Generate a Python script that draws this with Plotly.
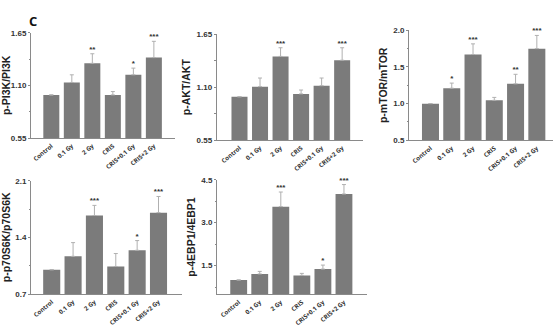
import plotly.graph_objects as go

categories = ["Control", "0.1 Gy", "2 Gy", "CRIS", "CRIS+0.1 Gy", "CRIS+2 Gy"]

pi3k_vals = [1.00, 1.13, 1.33, 1.00, 1.21, 1.39]
pi3k_err  = [0.00, 0.08, 0.10, 0.035, 0.07, 0.17]
pi3k_sig  = ["", "", "**", "", "*", "***"]

akt_vals = [1.00, 1.105, 1.42, 1.03, 1.115, 1.38]
akt_err  = [0.00, 0.09, 0.09, 0.04, 0.08, 0.13]
akt_sig  = ["", "", "***", "", "", "***"]

mtor_vals = [1.00, 1.21, 1.67, 1.045, 1.27, 1.75]
mtor_err  = [0.00, 0.07, 0.145, 0.04, 0.13, 0.18]
mtor_sig  = ["", "*", "***", "", "**", "***"]

p70_vals = [1.00, 1.165, 1.67, 1.04, 1.24, 1.705]
p70_err  = [0.00, 0.17, 0.125, 0.16, 0.12, 0.20]
p70_sig  = ["", "", "***", "", "*", "***"]

ebp_vals = [1.00, 1.21, 3.56, 1.16, 1.38, 4.00]
ebp_err  = [0.00, 0.09, 0.51, 0.07, 0.14, 0.33]
ebp_sig  = ["", "", "***", "", "*", "***"]

panels = [
    dict(vals=pi3k_vals, err=pi3k_err, sig=pi3k_sig, title="p-PI3K/PI3K",
         yr=[0.55, 1.65], tv=[0.55, 1.10, 1.65], tt=["0.55", "1.10", "1.65"], mdt=0.275,
         xr=[-0.99, 6.03], xd=[31, 175], yd=[138, 32.7], bw=0.78),
    dict(vals=akt_vals, err=akt_err, sig=akt_sig, title="p-AKT/AKT",
         yr=[0.55, 1.65], tv=[0.55, 1.10, 1.65], tt=["0.55", "1.10", "1.65"], mdt=0.275,
         xr=[-1.11, 6.03], xd=[216.7, 363.3], yd=[140, 34.3], bw=0.78),
    dict(vals=mtor_vals, err=mtor_err, sig=mtor_sig, title="p-mTOR/mTOR",
         yr=[0.5, 2.0], tv=[0.5, 1.0, 1.5, 2.0], tt=["0.5", "1.0", "1.5", "2.0"], mdt=0.25,
         xr=[-1.01, 5.76], xd=[409, 553], yd=[140.3, 30.3], bw=0.8),
    dict(vals=p70_vals, err=p70_err, sig=p70_sig, title="p-p70S6K/p70S6K",
         yr=[0.7, 2.1], tv=[0.7, 1.4, 2.1], tt=["0.7", "1.4", "2.1"], mdt=0.35,
         xr=[-0.97, 6.1], xd=[31, 182], yd=[294, 180.7], bw=0.8),
    dict(vals=ebp_vals, err=ebp_err, sig=ebp_sig, title="p-4EBP1/4EBP1",
         yr=[0.5, 4.5], tv=[1.5, 3.0, 4.5], tt=["1.5", "3.0", "4.5"], mdt=0.75,
         xr=[-1.03, 6.08], xd=[217, 366.7], yd=[294.3, 179.7], bw=0.8),
]

W, H = 560, 328
fig = go.Figure()
layout = dict(
    width=W, height=H, margin=dict(l=0, r=0, t=0, b=0, autoexpand=False),
    paper_bgcolor="white", plot_bgcolor="white", showlegend=False,
    font=dict(family="Liberation Sans, Arial, sans-serif", color="#222"),
)
axis_col = "#8a8a8a"
xs = list(range(len(categories)))
for i, p in enumerate(panels):
    n = "" if i == 0 else str(i + 1)
    xa, ya = "x" + n, "y" + n
    fig.add_trace(go.Bar(
        x=xs, y=p["vals"], xaxis=xa, yaxis=ya, width=p["bw"],
        marker=dict(color="#7b7b7b", line=dict(width=0)),
        error_y=dict(type="data", symmetric=False, array=p["err"],
                     arrayminus=[0] * len(xs), color="#b0b0b0", thickness=1, width=2),
    ))
    tops = [v + e for v, e in zip(p["vals"], p["err"])]
    fig.add_trace(go.Scatter(
        x=xs, y=tops, text=p["sig"], mode="text", textposition="top center",
        textfont=dict(size=8, color="#333", weight="bold"),
        xaxis=xa, yaxis=ya, cliponaxis=False,
    ))
    layout["xaxis" + n] = dict(
        domain=[p["xd"][0] / W, p["xd"][1] / W], anchor=ya, range=p["xr"],
        tickvals=xs, ticktext=categories, tickangle=-40, automargin=False,
        tickfont=dict(size=6.2, color="#333", weight="bold",
                      family="Open Sans, Liberation Sans, sans-serif"),
        showline=True, linecolor=axis_col, linewidth=1,
        ticks="outside", ticklen=1, tickcolor="rgba(0,0,0,0)", showgrid=False,
        zeroline=False, fixedrange=True,
    )
    layout["yaxis" + n] = dict(
        domain=[1 - p["yd"][0] / H, 1 - p["yd"][1] / H], anchor=xa, range=p["yr"],
        tickvals=p["tv"], ticktext=p["tt"], automargin=False,
        tickfont=dict(size=8, color="#333", weight="bold"),
        showline=True, linecolor=axis_col, linewidth=1, ticks="outside", ticklen=2,
        tickcolor=axis_col, showgrid=False, zeroline=False,
        minor=dict(dtick=p["mdt"], tick0=p["tv"][0], ticks="outside", ticklen=1.5,
                   tickcolor=axis_col),
        title=dict(text=p["title"], font=dict(size=10.5, color="#222", weight="bold"),
                   standoff=3),
    )

fig.update_layout(**layout)
fig.add_annotation(text="C", x=27 / W, y=1 - 10 / H, xref="paper", yref="paper",
                   showarrow=False, font=dict(size=13, color="#111", weight="bold",
                                              family="Open Sans, sans-serif"))
fig.write_html("out.html", config={"displayModeBar": False},
               post_script="document.body.style.margin='0';")
